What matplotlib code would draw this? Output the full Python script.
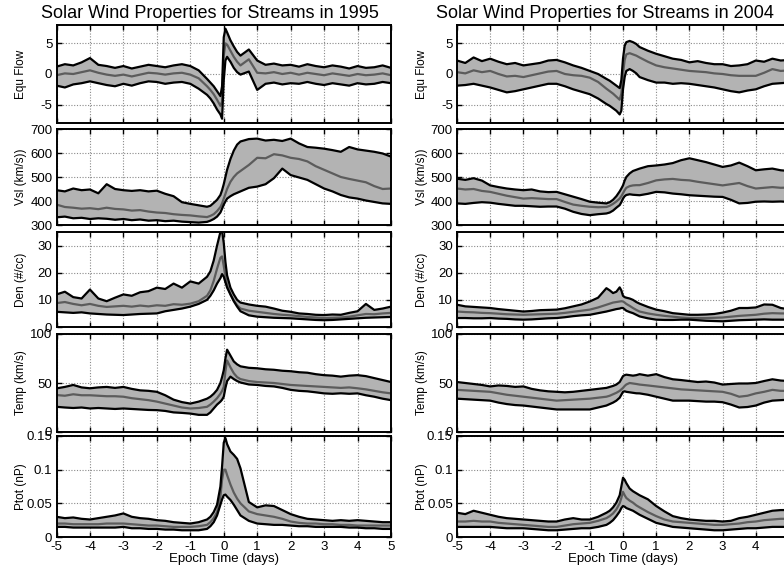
import matplotlib
matplotlib.use("Agg")
import matplotlib.pyplot as plt
import numpy as np

plt.rcParams['font.family'] = ['Liberation Sans', 'DejaVu Sans']

# Epoch time (days) sample points
t = [-5, -4.75, -4.5, -4.25, -4, -3.75, -3.5, -3.25, -3, -2.75, -2.5, -2.25, -2, -1.75,
     -1.5, -1.25, -1, -0.75, -0.5, -0.4, -0.3, -0.2, -0.1, -0.05, 0, 0.05, 0.1, 0.2, 0.3,
     0.4, 0.5, 0.75, 1, 1.25, 1.5, 1.75, 2, 2.25, 2.5, 2.75, 3, 3.25, 3.5, 3.75, 4, 4.25,
     4.5, 4.75, 5]

# ---------------- 1995 ----------------
flow95_up = [1.2, 1.6, 1.4, 1.9, 2.6, 1.5, 1.3, 1.0, 1.3, 0.9, 1.2, 1.5, 1.3, 1.1, 1.4, 1.6, 1.3, 0.6,
             -0.8, -1.4, -2.0, -2.8, -3.6, -2.0, 6.0, 7.4, 6.8, 5.5, 4.5, 3.6, 3.0, 4.0, 2.2, 1.5,
             1.7, 1.4, 1.5, 1.2, 1.6, 1.3, 1.1, 1.4, 1.2, 0.9, 1.3, 1.0, 1.1, 1.4, 1.0]
flow95_med = [-0.2, 0.1, 0.0, 0.3, 0.6, 0.2, -0.1, -0.3, -0.1, -0.4, -0.1, 0.2, 0.1, -0.1, 0.1, 0.2,
              -0.1, -0.7, -2.0, -2.6, -3.3, -4.2, -5.2, -4.5, 3.0, 5.0, 4.8, 3.8, 2.8, 2.0, 1.4,
              2.4, 0.2, 0.1, 0.3, 0.0, 0.2, -0.1, 0.2, 0.0, -0.2, 0.1, -0.1, -0.3, 0.0, -0.2, -0.1,
              0.1, -0.2]
flow95_lo = [-1.9, -2.2, -1.7, -1.5, -1.2, -1.5, -1.8, -2.0, -1.6, -1.9, -1.5, -1.2, -1.3, -1.6, -1.4,
             -1.3, -1.6, -2.4, -3.4, -4.0, -4.8, -5.8, -6.6, -7.3, -1.0, 2.2, 2.8, 2.0, 1.0, 0.3,
             -0.1, 0.4, -2.6, -1.6, -1.4, -1.7, -1.5, -1.6, -1.3, -1.6, -1.8, -1.5, -1.7, -1.9,
             -1.5, -1.7, -1.6, -1.3, -1.5]

vsw95_up = [445, 440, 452, 445, 448, 432, 470, 450, 445, 442, 445, 440, 443, 430, 420, 395, 388, 382,
            376, 380, 392, 405, 425, 445, 470, 500, 530, 575, 610, 635, 648, 658, 660, 652, 655, 650,
            660, 640, 625, 622, 618, 612, 605, 625, 615, 610, 605, 598, 585]
vsw95_med = [385, 375, 372, 368, 370, 366, 372, 367, 365, 360, 362, 356, 352, 350, 345, 342, 340, 336,
             333, 338, 345, 358, 375, 390, 410, 430, 450, 480, 500, 515, 525, 550, 580, 578, 595,
             590, 580, 575, 565, 545, 530, 515, 500, 492, 485, 478, 462, 450, 452]
vsw95_lo = [332, 335, 328, 330, 325, 328, 326, 322, 325, 320, 323, 318, 320, 316, 318, 314, 312, 310,
            313, 318, 325, 335, 352, 368, 385, 398, 410, 420, 428, 434, 440, 455, 460, 470, 495, 535,
            508, 498, 488, 470, 452, 440, 425, 415, 410, 402, 396, 390, 388]

den95_up = [12.0, 13.0, 11.0, 10.5, 13.8, 10.5, 9.5, 10.8, 12.0, 11.5, 12.8, 13.2, 14.5, 14.0, 16.0,
            14.5, 16.8, 16.0, 18.5, 20.5, 24.5, 30.0, 35.0, 35.5, 31.0, 24.0, 19.0, 14.5, 12.0, 10.0,
            9.0, 8.3, 7.8, 7.5, 6.8, 6.0, 5.6, 5.0, 4.8, 4.5, 4.4, 4.6, 4.5, 5.2, 5.8, 8.5, 6.3,
            6.8, 7.5]
den95_med = [8.8, 9.2, 8.5, 8.0, 8.5, 7.8, 7.4, 7.6, 7.8, 7.5, 7.9, 7.6, 8.0, 7.8, 8.4, 8.2, 8.6,
             9.5, 11.5, 13.5, 17.0, 21.5, 25.5, 26.0, 22.5, 18.5, 15.5, 12.0, 9.8, 8.0, 6.8, 6.0,
             5.6, 5.2, 4.8, 4.5, 4.3, 4.0, 3.7, 3.5, 3.3, 3.4, 3.5, 3.8, 4.3, 4.8, 4.7, 5.0, 5.2]
den95_lo = [5.6, 5.4, 5.2, 5.4, 5.0, 4.8, 4.6, 4.5, 4.4, 4.6, 4.8, 4.9, 5.0, 5.8, 6.3, 6.8, 7.5, 8.5,
            10.0, 11.5, 13.5, 16.0, 18.0, 19.5, 18.5, 16.5, 14.5, 12.0, 9.5, 7.5, 5.8, 4.3, 3.8,
            3.6, 3.4, 3.3, 3.2, 3.0, 2.8, 2.6, 2.5, 2.6, 2.8, 3.0, 3.2, 3.4, 3.5, 3.6, 3.7]

temp95_up = [44.5, 46.0, 48.0, 45.5, 44.6, 45.5, 46.0, 45.0, 46.0, 44.0, 42.5, 42.0, 41.0, 37.5, 33.0,
             30.5, 29.0, 31.0, 34.0, 36.0, 39.0, 43.0, 50.0, 56.0, 63.0, 75.0, 84.0, 78.0, 72.0,
             69.0, 67.0, 65.5, 65.0, 64.0, 63.5, 62.5, 62.0, 61.0, 60.5, 59.0, 58.0, 57.5, 56.5,
             57.5, 58.0, 57.0, 55.0, 53.0, 51.0]
temp95_med = [37.7, 37.0, 38.5, 37.5, 37.5, 37.0, 36.5, 36.5, 36.0, 34.5, 33.5, 32.5, 31.0, 29.0,
              27.0, 25.0, 24.0, 24.5, 25.7, 28.0, 31.0, 34.5, 39.0, 42.0, 46.0, 62.0, 73.0, 66.0,
              60.0, 56.0, 54.0, 52.0, 51.0, 50.5, 50.0, 49.0, 48.0, 47.5, 47.0, 46.5, 46.0, 45.5,
              45.0, 45.5, 44.6, 43.5, 42.0, 40.5, 39.4]
temp95_lo = [25.7, 25.0, 24.5, 25.0, 24.0, 24.5, 24.0, 23.5, 24.0, 23.5, 23.0, 22.5, 22.3, 21.5, 20.0,
             19.5, 18.8, 17.5, 17.5, 20.0, 24.0, 28.0, 31.0, 33.0, 36.0, 45.0, 52.0, 56.5, 54.0,
             52.0, 50.5, 48.5, 48.0, 47.0, 46.5, 45.0, 43.0, 42.0, 41.5, 40.5, 39.4, 39.0, 39.5,
             39.0, 39.4, 37.5, 36.0, 34.0, 32.5]

ptot95_up = [0.030, 0.028, 0.029, 0.027, 0.026, 0.028, 0.030, 0.032, 0.035, 0.030, 0.028, 0.027,
             0.025, 0.024, 0.022, 0.021, 0.020, 0.022, 0.026, 0.030, 0.037, 0.048, 0.075, 0.105,
             0.140, 0.147, 0.138, 0.127, 0.122, 0.116, 0.102, 0.052, 0.044, 0.047, 0.046, 0.040,
             0.034, 0.030, 0.027, 0.026, 0.025, 0.024, 0.025, 0.024, 0.025, 0.024, 0.023, 0.022,
             0.022]
ptot95_med = [0.020, 0.020, 0.019, 0.019, 0.019, 0.019, 0.020, 0.020, 0.020, 0.019, 0.018, 0.017,
              0.017, 0.016, 0.015, 0.015, 0.015, 0.016, 0.018, 0.022, 0.028, 0.037, 0.060, 0.085,
              0.100, 0.100, 0.092, 0.078, 0.066, 0.057, 0.050, 0.038, 0.034, 0.032, 0.030, 0.027,
              0.023, 0.021, 0.020, 0.020, 0.019, 0.019, 0.018, 0.018, 0.017, 0.017, 0.017, 0.017,
              0.017]
ptot95_lo = [0.015, 0.015, 0.014, 0.014, 0.014, 0.014, 0.014, 0.014, 0.015, 0.013, 0.013, 0.012,
             0.012, 0.011, 0.011, 0.010, 0.010, 0.010, 0.012, 0.016, 0.022, 0.032, 0.048, 0.056,
             0.062, 0.063, 0.060, 0.055, 0.048, 0.040, 0.032, 0.024, 0.020, 0.019, 0.018, 0.018,
             0.017, 0.016, 0.016, 0.015, 0.015, 0.015, 0.015, 0.014, 0.014, 0.013, 0.013, 0.012,
             0.012]

# ---------------- 2004 ----------------
flow04_up = [2.2, 1.8, 2.7, 2.1, 2.5, 2.0, 1.6, 1.8, 1.4, 1.6, 1.8, 2.2, 2.3, 1.9, 1.4, 1.0, 0.5, 0.0,
             -0.8, -1.1, -1.5, -1.9, -2.3, -1.0, 2.5, 4.6, 5.2, 5.4, 5.2, 4.9, 4.4, 3.8, 3.3, 2.9,
             2.5, 2.3, 1.9, 2.1, 1.8, 1.6, 1.6, 1.3, 1.4, 1.6, 2.2, 2.0, 2.5, 2.2, 2.3]
flow04_med = [0.3, 0.1, 0.6, 0.3, 0.5, 0.0, -0.4, -0.3, -0.5, -0.2, 0.1, 0.4, 0.5, 0.0, -0.2, -0.3,
              -0.6, -1.3, -2.4, -2.8, -3.2, -3.7, -4.2, -3.2, 0.0, 2.3, 3.2, 3.4, 3.2, 3.0, 2.7, 2.0,
              1.4, 1.1, 0.9, 0.7, 0.5, 0.4, 0.3, 0.1, 0.0, -0.2, -0.3, -0.3, -0.3, 0.2, 0.8, 0.5,
              0.6]
flow04_lo = [-1.9, -1.8, -1.6, -1.9, -2.2, -2.6, -3.0, -2.8, -2.5, -2.2, -1.9, -1.6, -1.6, -2.0, -2.5,
             -2.9, -3.3, -4.0, -4.9, -5.2, -5.6, -6.0, -6.6, -6.0, -2.5, -0.5, 0.5, 0.8, 0.5, 0.1,
             -0.5, -1.0, -1.4, -1.4, -1.6, -1.5, -1.6, -1.8, -2.0, -2.2, -2.5, -2.8, -3.0, -2.7,
             -2.5, -2.0, -1.6, -1.5, -1.4]

vsw04_up = [493, 488, 495, 485, 465, 458, 452, 448, 445, 448, 440, 437, 438, 428, 418, 408, 397, 393,
            390, 395, 405, 420, 440, 452, 465, 485, 500, 515, 525, 530, 535, 545, 548, 552, 558, 570,
            578, 570, 562, 552, 542, 548, 560, 545, 528, 532, 535, 528, 525]
vsw04_med = [452, 448, 450, 442, 438, 430, 422, 416, 410, 412, 410, 408, 408, 396, 385, 380, 376, 374,
             375, 380, 388, 398, 410, 420, 432, 445, 455, 462, 465, 466, 466, 475, 486, 490, 492,
             488, 486, 480, 475, 470, 465, 470, 475, 462, 452, 455, 458, 455, 456]
vsw04_lo = [390, 388, 392, 395, 393, 388, 384, 380, 380, 378, 376, 377, 377, 368, 355, 346, 341, 345,
            348, 352, 360, 372, 383, 395, 410, 420, 425, 428, 426, 425, 424, 430, 438, 436, 431, 428,
            424, 422, 420, 418, 417, 405, 390, 392, 397, 398, 397, 398, 396]

den04_up = [8.2, 7.6, 7.4, 7.2, 7.0, 6.6, 6.3, 6.0, 5.7, 5.9, 6.2, 6.3, 6.4, 6.9, 7.6, 8.3, 9.4, 10.8,
            14.3, 13.5, 12.5, 13.0, 14.6, 13.5, 11.5, 11.0, 10.8, 10.5, 10.0, 9.2, 8.6, 7.4, 6.4,
            5.8, 5.1, 4.8, 4.5, 4.5, 4.6, 4.8, 5.3, 6.0, 7.0, 7.0, 7.2, 8.3, 8.2, 7.0, 6.5]
den04_med = [5.7, 5.5, 5.4, 5.2, 5.1, 4.9, 4.7, 4.6, 4.5, 4.6, 4.7, 4.8, 4.9, 5.2, 5.6, 6.0, 6.4, 7.2,
             8.2, 8.6, 9.0, 9.2, 9.4, 9.5, 9.4, 9.0, 8.5, 7.8, 7.0, 6.3, 5.7, 5.0, 4.5, 4.1, 3.8,
             3.5, 3.3, 3.3, 3.3, 3.4, 3.5, 3.8, 4.1, 4.3, 4.5, 4.9, 5.1, 5.0, 5.0]
den04_lo = [3.3, 3.3, 3.2, 3.2, 3.3, 3.1, 3.0, 2.8, 2.7, 2.8, 3.0, 3.2, 3.3, 3.6, 4.0, 4.3, 4.5, 5.1,
            5.7, 6.0, 6.3, 6.6, 6.8, 7.0, 7.0, 6.5, 6.0, 5.5, 5.1, 4.5, 3.9, 3.2, 2.7, 2.6, 2.6,
            2.7, 2.7, 2.5, 2.3, 2.2, 2.1, 2.3, 2.5, 2.6, 2.7, 2.8, 2.7, 2.7, 2.7]

temp04_up = [51.0, 50.0, 49.0, 48.0, 46.5, 47.5, 47.0, 46.0, 46.5, 44.0, 42.5, 41.5, 41.0, 40.5, 41.0,
             42.0, 43.0, 44.0, 45.0, 46.0, 47.0, 48.4, 51.0, 54.0, 57.0, 58.0, 58.5, 58.0, 57.5,
             58.0, 59.0, 57.5, 59.0, 56.0, 53.8, 53.0, 52.0, 51.0, 51.5, 50.5, 48.4, 49.0, 49.5,
             49.5, 50.0, 52.0, 53.8, 52.5, 52.0]
temp04_med = [43.0, 42.5, 42.0, 41.5, 41.0, 39.5, 38.0, 37.0, 36.0, 35.0, 34.0, 33.0, 32.0, 32.5,
              33.0, 33.5, 34.0, 35.0, 36.0, 37.0, 38.5, 40.0, 42.0, 43.5, 45.0, 47.0, 48.5, 50.0,
              49.5, 49.0, 48.4, 47.5, 46.5, 45.5, 44.5, 43.5, 43.0, 42.5, 42.0, 41.5, 41.0, 39.0,
              36.0, 37.0, 39.4, 41.0, 43.0, 42.0, 42.0]
temp04_lo = [34.0, 33.5, 33.0, 32.5, 32.0, 30.0, 28.5, 27.5, 27.0, 26.0, 25.0, 24.0, 23.0, 23.0, 23.0,
             23.0, 23.0, 25.0, 27.0, 28.5, 30.0, 32.0, 35.0, 38.0, 41.0, 41.5, 41.0, 40.5, 40.0,
             39.5, 39.4, 38.0, 36.0, 34.0, 32.0, 32.0, 32.0, 31.5, 31.0, 31.0, 30.4, 28.0, 25.0,
             25.5, 27.0, 30.0, 32.0, 32.5, 33.0]

ptot04_up = [0.036, 0.034, 0.039, 0.036, 0.033, 0.030, 0.028, 0.027, 0.026, 0.025, 0.024, 0.023,
             0.023, 0.026, 0.028, 0.026, 0.026, 0.030, 0.036, 0.039, 0.044, 0.051, 0.062, 0.075,
             0.088, 0.085, 0.080, 0.072, 0.068, 0.065, 0.062, 0.056, 0.046, 0.038, 0.031, 0.028,
             0.026, 0.025, 0.024, 0.024, 0.023, 0.024, 0.028, 0.030, 0.033, 0.036, 0.039, 0.040,
             0.040]
ptot04_med = [0.023, 0.023, 0.024, 0.023, 0.023, 0.021, 0.020, 0.019, 0.018, 0.017, 0.016, 0.015,
              0.015, 0.017, 0.019, 0.020, 0.021, 0.024, 0.028, 0.031, 0.035, 0.041, 0.050, 0.058,
              0.067, 0.062, 0.058, 0.054, 0.051, 0.047, 0.044, 0.037, 0.031, 0.026, 0.023, 0.022,
              0.021, 0.020, 0.019, 0.018, 0.018, 0.019, 0.020, 0.022, 0.023, 0.025, 0.026, 0.027,
              0.027]
ptot04_lo = [0.015, 0.015, 0.015, 0.015, 0.015, 0.014, 0.013, 0.013, 0.013, 0.012, 0.011, 0.010,
             0.010, 0.011, 0.012, 0.013, 0.013, 0.015, 0.018, 0.021, 0.025, 0.031, 0.038, 0.043,
             0.046, 0.045, 0.043, 0.041, 0.039, 0.036, 0.033, 0.027, 0.021, 0.018, 0.015, 0.014,
             0.013, 0.012, 0.011, 0.010, 0.010, 0.011, 0.012, 0.013, 0.013, 0.014, 0.015, 0.015,
             0.015]

titles = ["Solar Wind Properties for Streams in 1995", "Solar Wind Properties for Streams in 2004"]
ylabels = ["Equ Flow", "Vsl (km/s))", "Den (#/cc)", "Temp (km/s)", "Ptot (nP)"]
ylims = [(-8, 8), (300, 700), (0, 35), (0, 100), (0, 0.15)]
yticks = [[-5, 0, 5], [300, 400, 500, 600, 700], [0, 10, 20, 30], [0, 50, 100], [0, 0.05, 0.1, 0.15]]
ytick_labels = [["-5", "0", "5"], ["300", "400", "500", "600", "700"], ["0", "10", "20", "30"],
                ["0", "50", "100"], ["0", "0.05", "0.1", "0.15"]]
xticks = [-5, -4, -3, -2, -1, 0, 1, 2, 3, 4, 5]
xlabel = "Epoch Time (days)"

columns = [
    [(flow95_up, flow95_med, flow95_lo), (vsw95_up, vsw95_med, vsw95_lo), (den95_up, den95_med, den95_lo),
     (temp95_up, temp95_med, temp95_lo), (ptot95_up, ptot95_med, ptot95_lo)],
    [(flow04_up, flow04_med, flow04_lo), (vsw04_up, vsw04_med, vsw04_lo), (den04_up, den04_med, den04_lo),
     (temp04_up, temp04_med, temp04_lo), (ptot04_up, ptot04_med, ptot04_lo)],
]

W, H = 784, 565
fig = plt.figure(figsize=(W / 100, H / 100), dpi=100)

col_x = [(56.5, 334.5), (457.0, 332.0)]
tops = [25, 129, 232, 334, 436]
bots = [123, 225, 327, 432, 537]
title_cx = [210, 605]

for c in range(2):
    x0, w = col_x[c]
    for r in range(5):
        ax = fig.add_axes([x0 / W, 1 - bots[r] / H, w / W, (bots[r] - tops[r]) / H])
        up, med, lo = columns[c][r]
        ax.fill_between(t, lo, up, color="#b3b3b3", lw=0, zorder=2)
        ax.plot(t, up, color="black", lw=1.6, zorder=4)
        ax.plot(t, lo, color="black", lw=1.6, zorder=4)
        ax.plot(t, med, color="#5c5c5c", lw=1.6, zorder=3)
        ax.set_xlim(-5, 5)
        ax.set_ylim(*ylims[r])
        ax.set_xticks(xticks)
        ax.set_yticks(yticks[r])
        ax.set_yticklabels(ytick_labels[r])
        ax.grid(True, color="#8a8a8a", linestyle=(0, (1, 1.5)), lw=0.8, zorder=1)
        ax.tick_params(direction="in", length=3.5, width=1, top=True, right=True,
                       labelsize=9.5, pad=3, colors="black")
        for sp in ax.spines.values():
            sp.set_linewidth(1.4)
            sp.set_zorder(5)
        ax.set_ylabel(ylabels[r], fontsize=8.5, labelpad=0)
        ax.yaxis.set_label_coords(-0.088, 0.5)
        if r < 4:
            ax.set_xticklabels([])
        else:
            ax.set_xticklabels([str(v) for v in xticks])
            ax.set_xlabel(xlabel, fontsize=9.5, labelpad=0)
    fig.text(title_cx[c] / W, 1 - 13 / H, titles[c], ha="center", va="center", fontsize=13)

fig.savefig("out.png", dpi=100)
